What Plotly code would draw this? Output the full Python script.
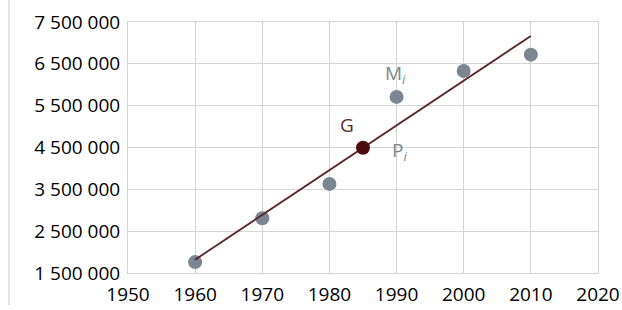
import numpy as np
import plotly.graph_objects as go

years = [1960, 1970, 1980, 1990, 2000, 2010]
population = [1760000, 2810000, 3630000, 5710000, 6330000, 6720000]
y_ticks = [1500000, 2500000, 3500000, 4500000, 5500000, 6500000, 7500000]
y_tick_labels = ["1 500 000", "2 500 000", "3 500 000", "4 500 000", "5 500 000", "6 500 000", "7 500 000"]
x_ticks = [1950, 1960, 1970, 1980, 1990, 2000, 2010, 2020]

xa = np.array(years, dtype=float)
ya = np.array(population, dtype=float)
gx, gy = xa.mean(), ya.mean()
slope, intercept = np.polyfit(xa, ya, 1)
line_x = [years[0], years[-1]]
line_y = [slope * v + intercept for v in line_x]

fig = go.Figure()
fig.add_trace(go.Scatter(x=years, y=population, mode="markers",
                         marker=dict(size=14, color="#7b8690"), showlegend=False))
fig.add_trace(go.Scatter(x=line_x, y=line_y, mode="lines",
                         line=dict(color="#5a2626", width=1.8), showlegend=False))
fig.add_trace(go.Scatter(x=[gx], y=[gy], mode="markers",
                         marker=dict(size=14, color="#4a0c0e"), showlegend=False))

font = "Open Sans"
fig.add_annotation(x=1982.6, y=gy + 550000, text="G", showarrow=False,
                   font=dict(family=font, size=19, color="#5a2a2a"))
fig.add_annotation(x=1989.9, y=population[3] + 550000, text="M<sub><i>i</i></sub>", showarrow=False,
                   font=dict(family=font, size=19, color="#7b8690"))
fig.add_annotation(x=1990.4, y=slope * 1990 + intercept - 600000, text="P<sub><i>i</i></sub>", showarrow=False,
                   font=dict(family=font, size=19, color="#7b8690"))

fig.add_shape(type="line", xref="paper", yref="paper", x0=(9 - 128) / 470, x1=(9 - 128) / 470,
              y0=(273 - 0) / 251, y1=(273 - 305) / 251, line=dict(color="#c8c8c8", width=1))

fig.update_layout(
    width=622, height=310,
    margin=dict(l=128, r=24, t=22, b=37),
    paper_bgcolor="white", plot_bgcolor="white",
    font=dict(family=font, size=19, color="#000000"),
    hovermode=False,
)
fig.update_xaxes(range=[1950, 2020], tickvals=x_ticks, showgrid=True, gridcolor="#d4d4d4",
                 gridwidth=1, zeroline=False, showline=True, linecolor="#d4d4d4", mirror=True,
                 ticks="", tickfont=dict(size=19), ticklabelstandoff=4, automargin=False)
fig.update_yaxes(range=[1500000, 7500000], tickvals=y_ticks, ticktext=y_tick_labels,
                 showgrid=True, gridcolor="#d4d4d4", gridwidth=1, zeroline=False, showline=True,
                 linecolor="#d4d4d4", mirror=True, ticks="", tickfont=dict(size=19), ticklabelstandoff=3,
                 automargin=False)

fig.write_html("out.html", config={"displayModeBar": False},
               post_script="document.body.style.margin='0';document.body.style.overflow='hidden';")
